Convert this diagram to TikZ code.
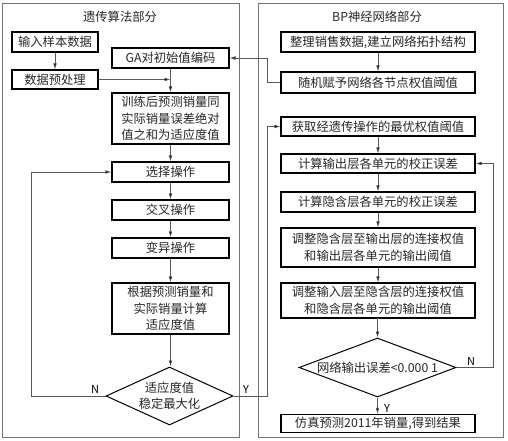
\documentclass[tikz,border=0pt]{standalone}
\usepackage{fontspec}
\newfontfamily\cjk{Noto Sans CJK SC}
\usetikzlibrary{shapes.geometric,arrows.meta}
\begin{document}
\begin{tikzpicture}[x=1pt,y=-1pt,
  txt/.style={font=\cjk\fontsize{12.3}{16.5}\selectfont,text=black!85,align=center,inner sep=0pt},
  box/.style={txt,draw=black,line width=1.1pt},
  lbox/.style={box,minimum width=117pt},
  rbox/.style={box,minimum width=194pt},
  panel/.style={draw=black!55,line width=0.8pt},
  dia/.style={draw=black,line width=1pt,diamond,inner sep=0pt},
  conn/.style={draw=black!65,line width=0.6pt},
  arr/.style={conn,-{Latex[length=6pt,width=3.6pt,fill=black]}},
  lab/.style={font=\cjk\fontsize{11}{13}\selectfont,inner sep=0pt}]
\useasboundingbox (0,0) rectangle (508,441);
% panels
\draw[panel] (2,3) rectangle (239,437);
\draw[panel] (258,3) rectangle (503,437);
\node[txt] (t1) at (120,17) {遗传算法部分};
\node[txt] (t2) at (377,17) {BP神经网络部分};
% left column
\node[box,minimum width=86pt,minimum height=20pt] (in) at (55,42) {输入样本数据};
\node[box,minimum width=86pt,minimum height=19pt] (pre) at (55,79.5) {数据预处理};
\node[lbox,minimum height=20pt] (ga) at (170.5,58) {GA对初始值编码};
\node[lbox,minimum height=51pt] (train) at (170.5,118.5) {训练后预测销量同\\实际销量误差绝对\\值之和为适应度值};
\node[lbox,minimum height=20pt] (sel) at (170.5,172) {选择操作};
\node[lbox,minimum height=20pt] (cross) at (170.5,210) {交叉操作};
\node[lbox,minimum height=20pt] (mut) at (170.5,248) {变异操作};
\node[lbox,minimum height=51pt] (fit) at (170.5,308.5) {根据预测销量和\\实际销量计算\\适应度值};
\node[dia,minimum width=127pt,minimum height=58pt] (d1) at (169.5,396) {};
\node[txt] (d1t) at (169.5,396) {适应度值\\稳定最大化};
% right column
\node[rbox,minimum height=20pt] (org) at (378,42) {整理销售数据,建立网络拓扑结构};
\node[rbox,minimum height=21pt] (rand) at (378,82.5) {随机赋予网络各节点权值阈值};
\node[rbox,minimum height=19pt] (get) at (378,126.5) {获取经遗传操作的最优权值阈值};
\node[rbox,minimum height=19pt] (out) at (378,163.5) {计算输出层各单元的校正误差};
\node[rbox,minimum height=20pt] (hid) at (378,202) {计算隐含层各单元的校正误差};
\node[rbox,minimum height=39pt] (adj1) at (378,247.5) {调整隐含层至输出层的连接权值\\和输出层各单元的输出阈值};
\node[rbox,minimum height=35pt] (adj2) at (378,300.5) {调整输入层至隐含层的连接权值\\和隐含层各单元的输出阈值};
\node[dia,minimum width=157pt,minimum height=59pt] (d2) at (377.5,367.5) {};
\node[txt] (d2t) at (377.5,367.5) {网络输出误差<0.000 1};
\node[rbox,minimum height=18pt] (sim) at (378,423.5) {仿真预测2011年销量,得到结果};
% connectors left
\coordinate (j1) at (170.5,79.5);
\draw[arr] (in) -- (pre);
\draw[arr] (pre.east) -- (j1);
\draw[arr] (ga) -- (train);
\draw[arr] (train) -- (sel);
\draw[arr] (sel) -- (cross);
\draw[arr] (cross) -- (mut);
\draw[arr] (mut) -- (fit);
\draw[arr] (fit.south) -- (fit.south |- d1.north);
\draw[arr] (d1.west) -- (31,396) |- (sel.west);
\node[lab] (nl) at (95,389) {N};
\draw[arr] (d1.east) -- (267,396) |- (get.west);
\node[lab] (yl) at (246,389) {Y};
% connectors right
\draw[arr] (org) -- (rand);
\draw[arr] (rand.west) -- (267,82.5) |- (ga.east);
\draw[arr] (get) -- (out);
\draw[arr] (out) -- (hid);
\draw[arr] (hid) -- (adj1);
\draw[arr] (adj1) -- (adj2);
\draw[arr] (adj2.south) -- (adj2.south -| d2.north) -- (d2.north);
\draw[arr] (d2.east) -- (493,367.5) |- (out.east);
\node[lab] (nr) at (471,361) {N};
\draw[arr] (d2.south) -- (sim.north -| d2.south);
\node[lab] (yr) at (387,408) {Y};
\end{tikzpicture}
\end{document}
